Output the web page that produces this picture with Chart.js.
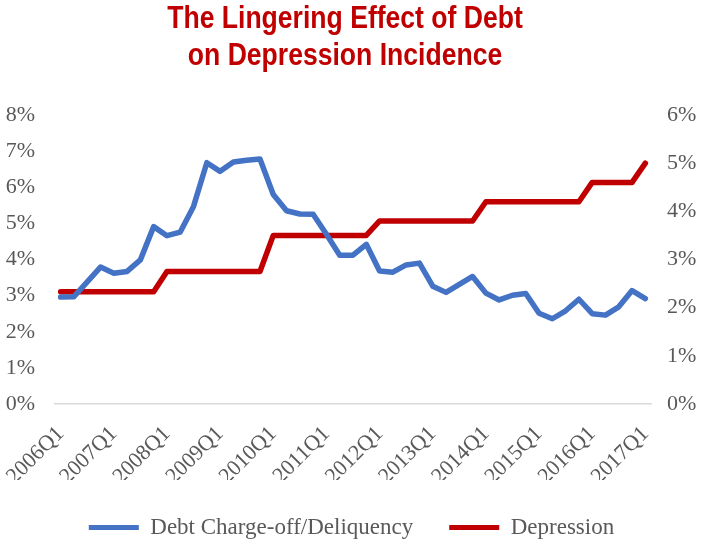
<!DOCTYPE html>
<html>
<head>
<meta charset="utf-8">
<script src="https://cdn.jsdelivr.net/npm/chart.js@4/dist/chart.umd.min.js"></script>
<style>
  html, body { margin: 0; padding: 0; background: #ffffff; }
  #wrap { width: 703px; height: 544px; }
</style>
</head>
<body>
<div id="wrap"><canvas id="c" width="703" height="544"></canvas></div>
<script>
const quarters = [
  '2006Q1','2006Q2','2006Q3','2006Q4',
  '2007Q1','2007Q2','2007Q3','2007Q4',
  '2008Q1','2008Q2','2008Q3','2008Q4',
  '2009Q1','2009Q2','2009Q3','2009Q4',
  '2010Q1','2010Q2','2010Q3','2010Q4',
  '2011Q1','2011Q2','2011Q3','2011Q4',
  '2012Q1','2012Q2','2012Q3','2012Q4',
  '2013Q1','2013Q2','2013Q3','2013Q4',
  '2014Q1','2014Q2','2014Q3','2014Q4',
  '2015Q1','2015Q2','2015Q3','2015Q4',
  '2016Q1','2016Q2','2016Q3','2016Q4',
  '2017Q1'
];
const debtChargeOff = [
  2.96, 2.97, 3.38, 3.79, 3.62, 3.67, 3.99, 4.91, 4.66, 4.76,
  5.47, 6.68, 6.44, 6.70, 6.75, 6.78, 5.80, 5.35, 5.26, 5.25,
  4.70, 4.12, 4.12, 4.42, 3.68, 3.65, 3.85, 3.90, 3.26, 3.09,
  3.31, 3.53, 3.07, 2.88, 3.01, 3.06, 2.51, 2.36, 2.58, 2.90,
  2.50, 2.46, 2.69, 3.14, 2.92
];
const depression = [
  2.33, 2.33, 2.33, 2.33, 2.33, 2.33, 2.33, 2.33,
  2.75, 2.75, 2.75, 2.75, 2.75, 2.75, 2.75, 2.75,
  3.50, 3.50, 3.50, 3.50, 3.50, 3.50, 3.50, 3.50,
  3.80, 3.80, 3.80, 3.80, 3.80, 3.80, 3.80, 3.80,
  4.20, 4.20, 4.20, 4.20, 4.20, 4.20, 4.20, 4.20,
  4.60, 4.60, 4.60, 4.60,
  5.00
];
const titleLines = ['The Lingering Effect of Debt', 'on Depression Incidence'];
const seriesNames = ['Debt Charge-off/Deliquency', 'Depression'];

const grey = '#595959';
const serif = "'Liberation Serif', 'Times New Roman', serif";

// Title drawn as condensed bold text (horizontal compression to mimic a narrow typeface)
const condensedTitle = {
  id: 'condensedTitle',
  afterDraw(chart) {
    const ctx = chart.ctx;
    ctx.save();
    ctx.fillStyle = '#C00000';
    ctx.font = "bold 32px 'Liberation Sans', Arial, sans-serif";
    ctx.textAlign = 'center';
    ctx.textBaseline = 'alphabetic';
    const cx = 345;
    const baselines = [28, 65];
    titleLines.forEach((line, i) => {
      ctx.save();
      ctx.translate(cx, baselines[i]);
      ctx.scale(0.83, 1);
      ctx.fillText(line, 0, 0);
      ctx.restore();
    });
    ctx.restore();
  }
};

new Chart(document.getElementById('c'), {
  type: 'line',
  data: {
    labels: quarters,
    datasets: [
      {
        label: seriesNames[0],
        data: debtChargeOff,
        yAxisID: 'yL',
        borderColor: '#4472C4',
        backgroundColor: '#4472C4',
        borderWidth: 5.5,
        pointRadius: 0,
        tension: 0,
        borderJoinStyle: 'round',
        borderCapStyle: 'round'
      },
      {
        label: seriesNames[1],
        data: depression,
        yAxisID: 'yR',
        borderColor: '#C00000',
        backgroundColor: '#C00000',
        borderWidth: 5.5,
        pointRadius: 0,
        tension: 0,
        borderJoinStyle: 'round',
        borderCapStyle: 'round'
      }
    ]
  },
  plugins: [condensedTitle],
  options: {
    responsive: false,
    animation: false,
    layout: { padding: { top: 115, bottom: -5, left: 0, right: 0 } },
    plugins: {
      tooltip: { enabled: false },
      title: { display: false },
      legend: {
        position: 'bottom',
        labels: {
          color: grey,
          font: { family: serif, size: 23 },
          boxWidth: 50,
          boxHeight: 5,
          padding: 36,
          generateLabels: (chart) => chart.data.datasets.map((ds, i) => ({
            text: ds.label,
            fillStyle: ds.borderColor,
            strokeStyle: ds.borderColor,
            lineWidth: 0,
            datasetIndex: i,
            fontColor: grey
          }))
        }
      }
    },
    scales: {
      x: {
        type: 'category',
        offset: true,
        grid: { display: false },
        border: { display: false },
        ticks: {
          autoSkip: false,
          minRotation: 45,
          maxRotation: 45,
          color: grey,
          padding: 9,
          font: { family: serif, size: 22 },
          callback: function (v, i) { return i % 4 === 0 ? quarters[i] : ''; }
        },
        afterFit: (s) => { s.height = 76; }
      },
      yL: {
        type: 'linear',
        position: 'left',
        min: 0,
        max: 8,
        border: { display: false },
        grid: {
          drawTicks: false,
          lineWidth: 1.5,
          color: (ctx) => (ctx.tick && ctx.tick.value === 0 ? '#D9D9D9' : 'rgba(0,0,0,0)')
        },
        ticks: {
          stepSize: 1,
          color: grey,
          padding: 19,
          font: { family: serif, size: 22 },
          callback: (v) => v + '%'
        },
        afterFit: (s) => { s.width = 54; }
      },
      yR: {
        type: 'linear',
        position: 'right',
        min: 0,
        max: 6,
        border: { display: false },
        grid: { display: false, drawTicks: false },
        ticks: {
          stepSize: 1,
          color: grey,
          padding: 15,
          font: { family: serif, size: 22 },
          callback: (v) => v + '%'
        },
        afterFit: (s) => { s.width = 51; }
      }
    }
  }
});
</script>
</body>
</html>
